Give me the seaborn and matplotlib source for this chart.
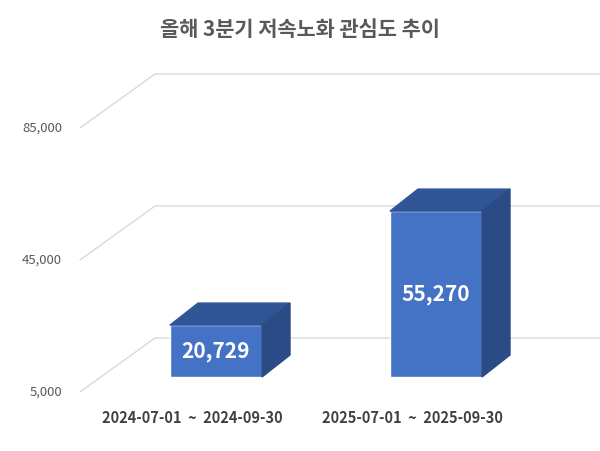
import matplotlib
matplotlib.use("Agg")
import matplotlib.pyplot as plt
import seaborn as sns
import pandas as pd
from matplotlib.patches import Polygon

title = "올해 3분기 저속노화 관심도 추이"
categories = ["2024-07-01  ~  2024-09-30", "2025-07-01  ~  2025-09-30"]
values = [20729, 55270]
tick_values = [5000, 45000, 85000]
tick_labels = ["5,000", "45,000", "85,000"]

sns.set_theme(style="white")
plt.rcParams['font.family'] = ['Noto Sans CJK KR', 'DejaVu Sans']

df = pd.DataFrame({"cat": categories, "val": values})

fig = plt.figure(figsize=(6, 4.51), dpi=100)
ax = fig.add_axes([0, 0, 1, 1])
PX = 1 / 220.0
VPX = 40000 / 132.0
ax.set_xlim(-216 * PX, (600 - 216) * PX)
ax.set_ylim(5000 - 59 * VPX, 5000 + 392 * VPX)
ax.axis("off")

for v, lab in zip(tick_values, tick_labels):
    x0 = (80 - 216) * PX
    x1 = (155 - 216) * PX
    ax.plot([x0, x1, (600 - 216) * PX], [v, v + 54 * VPX, v + 54 * VPX],
            color="#d9d9d9", lw=1, zorder=1)
    ax.text((62 - 216) * PX, v, lab, ha="right", va="center",
            fontsize=9.5, color="#595959")

front, top, side = "#4472C4", "#2F5597", "#2A4B86"
w = 92 * PX
dx, dy = 28 * PX, 22 * VPX
base = 5000 + 15 * VPX
for i, v in enumerate(df["val"]):
    h = v - 5000
    ax.bar(i, h, bottom=base, width=w, color=front, zorder=3)
    xl, xr, yt = i - w / 2, i + w / 2, base + h
    ax.add_patch(Polygon([(xl, yt), (xr, yt), (xr + dx, yt + dy), (xl + dx, yt + dy)],
                         closed=True, color=top, zorder=3))
    ax.add_patch(Polygon([(xr, base), (xr, yt), (xr + dx, yt + dy), (xr + dx, base + dy)],
                         closed=True, color=side, zorder=3))
    ax.text(i, base + h / 2, f"{v:,}", ha="center", va="center",
            fontsize=15, fontweight="bold", color="white", zorder=4)
    ax.text(i - 24 * PX, 5000 - 26 * VPX, df["cat"][i], ha="center", va="center",
            fontsize=10.5, fontweight="bold", color="#404040")

fig.text(0.5, 1 - 30 / 451, title, ha="center", va="center",
         fontsize=15, fontweight="bold", color="#595959")
fig.savefig("out.png", dpi=100)
